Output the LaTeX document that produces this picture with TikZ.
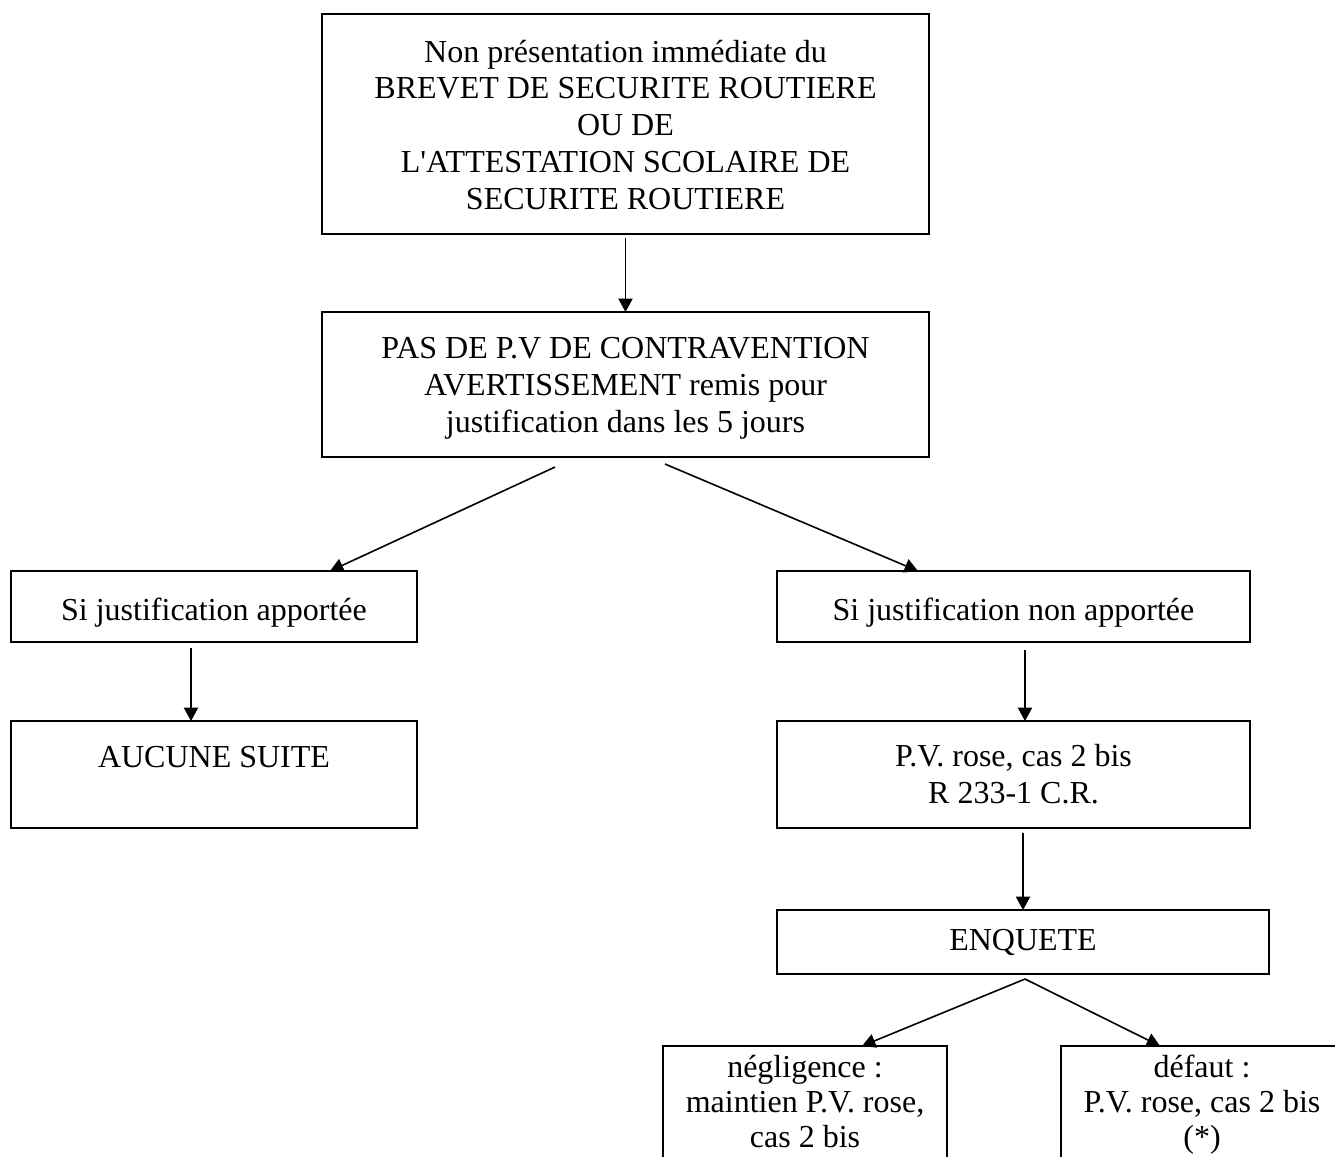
\documentclass[tikz,border=0pt]{standalone}
\usepackage{fontspec}
\setmainfont{Liberation Serif}
\newfontfamily\nqfont{Liberation Serif}
\usetikzlibrary{arrows.meta,calc}
\newcommand\bxt[4]{\parbox[c][#2][t]{#1}{\centering\rule{0pt}{#3}#4\par}}
\begin{document}
\begin{tikzpicture}[x=0.375pt,y=-0.375pt,
  box/.style={draw,line width=0.85pt,inner sep=0pt,outer sep=0pt,font=\fontsize{12}{13.8}\selectfont},
  smallbox/.style={box,font=\fontsize{12}{13.1}\selectfont},
  arr/.style={line width=0.6pt,-{Triangle[length=5pt,width=5.3pt]}}]
\useasboundingbox (0,0) rectangle (1335,1156);
\clip (0,0) rectangle (1335,1156);
\node[box] (B1) at (625.5,124) {\bxt{227.6pt}{82.5pt}{18pt}{Non présentation immédiate du\\BREVET DE SECURITE ROUTIERE\\OU DE\\L{\nqfont'}ATTESTATION SCOLAIRE DE\\SECURITE ROUTIERE}};
\node[box] (B2) at (625.5,384.5) {\bxt{227.6pt}{54.4pt}{17.6pt}{PAS DE P.V DE CONTRAVENTION\\AVERTISSEMENT remis pour\\justification dans les 5 jours}};
\node[box] (S1) at (214,606.5) {\bxt{152.25pt}{26.6pt}{18.4pt}{Si justification apportée}};
\node[box] (S2) at (1013.5,606.5) {\bxt{177.4pt}{26.6pt}{18.4pt}{Si justification non apportée}};
\node[box] (A) at (214,774.5) {\bxt{152.25pt}{40.1pt}{17.25pt}{AUCUNE SUITE}};
\node[box] (PV) at (1013.5,774.5) {\bxt{177.4pt}{40.1pt}{17pt}{P.V. rose, cas 2 bis\\R 233-1 C.R.}};
\node[box] (E) at (1023,942) {\bxt{184.5pt}{24pt}{15pt}{ENQUETE}};
\node[smallbox] (N) at (805,1111) {\bxt{106.5pt}{48.75pt}{11.8pt}{négligence :\\maintien P.V. rose,\\cas 2 bis}};
\node[smallbox] (D) at (1202,1111) {\bxt{105.75pt}{48.75pt}{11.8pt}{défaut :\\P.V. rose, cas 2 bis\\(*)}};
\draw[arr] ($(B1.south)+(0,4)$) -- (B2.north);
\draw[arr] ($(B2.south)+(-70.5,10)$) -- ($(S1.north west)+(319,0)$);
\draw[arr] ($(B2.south)+(39.5,7)$) -- ($(S2.north west)+(141,0)$);
\draw[arr] ($(S1.south west)+(180,6)$) -- ($(A.north west)+(180,0)$);
\draw[arr] ($(S2.south west)+(248,8)$) -- ($(PV.north west)+(248,0)$);
\draw[arr] ($(PV.south west)+(246,5)$) -- (E.north);
\draw[arr] ($(E.south)+(2,5)$) -- ($(N.north west)+(199,0)$);
\draw[arr] ($(E.south)+(2,5)$) -- ($(D.north west)+(99,0)$);
\end{tikzpicture}
\end{document}
